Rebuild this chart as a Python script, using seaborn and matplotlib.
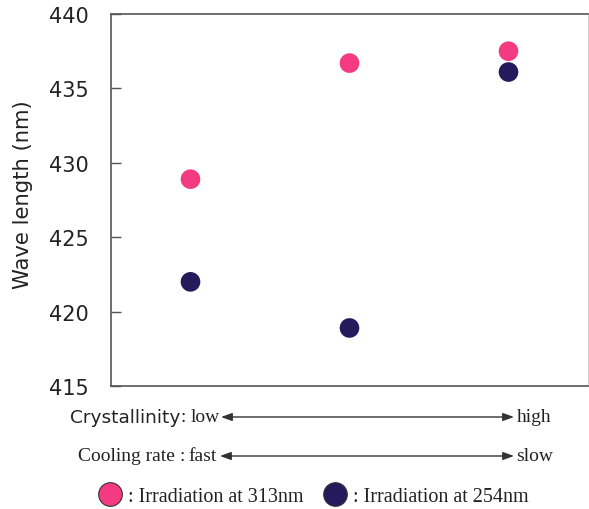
import matplotlib
matplotlib.use("Agg")
import matplotlib.pyplot as plt
from matplotlib.lines import Line2D
import seaborn as sns
import pandas as pd

conditions = ["low/fast", "mid", "high/slow"]
irr_313 = [428.9, 436.7, 437.5]
irr_254 = [422.0, 418.9, 436.1]
series_labels = [": Irradiation at 313nm", ": Irradiation at 254nm"]
colors = ["#F43A80", "#231B5C"]
yticks = [415, 420, 425, 430, 435, 440]

df = pd.DataFrame({
    "x": list(range(len(conditions))) * 2,
    "y": irr_313 + irr_254,
    "series": [series_labels[0]] * 3 + [series_labels[1]] * 3,
})

sns.set_theme(style="white")
plt.rcParams["font.family"] = ["DejaVu Sans"]

W, H = 589, 510
fig = plt.figure(figsize=(W / 100, H / 100), dpi=100)
ax = fig.add_axes([111 / W, 1 - 387 / H, (588 - 111) / W, (387 - 15) / H])

sns.scatterplot(data=df, x="x", y="y", hue="series",
                palette=dict(zip(series_labels, colors)),
                s=200, edgecolor="none", legend=False, ax=ax)

ax.set_xlim(-0.5, 2.5)
ax.set_ylim(415, 440)
ax.set_yticks(yticks)
ax.set_yticklabels([str(t) for t in yticks], fontsize=15, color="#222222")
ax.set_xticks([])
ax.set_xlabel("")
ax.set_ylabel("")
ax.tick_params(axis="y", direction="in", length=7, width=1, color="#555555", pad=16, left=True)
for side in ["left", "bottom", "top"]:
    ax.spines[side].set_color("#555555")
    ax.spines[side].set_linewidth(1.2)
ax.spines["right"].set_color("#cccccc")
ax.spines["right"].set_linewidth(0.8)


def fx(px):
    return px / W


def fy(py):
    return 1 - py / H


fig.text(fx(23), fy(195), "Wave length (nm)", rotation=90, ha="center", va="center",
         fontsize=15.2, color="#222222")

serif = "Liberation Serif"
fs = 14
tc = "#222222"
arrow_kw = dict(arrowstyle="<|-|>,head_length=0.55,head_width=0.2", color="#333333", lw=1,
                shrinkA=0, shrinkB=0)

# Row 1: crystallinity
y1 = fy(418)
fig.text(fx(70), y1, "Crystallinity", ha="left", va="center", fontsize=13.3,
         family="DejaVu Sans", color=tc)
fig.text(fx(183), y1, ":", ha="center", va="center", fontsize=fs, family=serif, color=tc)
fig.text(fx(191), y1, "low", ha="left", va="center", fontsize=fs, family=serif, color=tc)
fig.text(fx(517), y1, "high", ha="left", va="center", fontsize=fs, family=serif, color=tc)
ax.annotate("", xy=(fx(514), y1), xytext=(fx(221), y1), xycoords="figure fraction",
            textcoords="figure fraction", arrowprops=arrow_kw)

# Row 2: cooling rate
y2 = fy(457)
fig.text(fx(78), y2, "Cooling rate", ha="left", va="center", fontsize=fs, family=serif, color=tc)
fig.text(fx(182), y2, ":", ha="center", va="center", fontsize=fs, family=serif, color=tc)
fig.text(fx(188), y2, "fast", ha="left", va="center", fontsize=fs, family=serif, color=tc)
fig.text(fx(516), y2, "slow", ha="left", va="center", fontsize=fs, family=serif, color=tc)
ax.annotate("", xy=(fx(514), y2), xytext=(fx(220), y2), xycoords="figure fraction",
            textcoords="figure fraction", arrowprops=arrow_kw)

# Legend: two single-entry legends placed precisely
lfs = 14.5
for c, lab, x0 in zip(colors, series_labels, [98, 323]):
    h = Line2D([], [], marker="o", linestyle="", markersize=17,
               markerfacecolor=c, markeredgecolor="#333333", markeredgewidth=0.8)
    leg = fig.legend([h], [lab], loc="center left", bbox_to_anchor=(fx(x0), fy(497)),
                     frameon=False, prop={"family": serif, "size": lfs},
                     handletextpad=0.3, handlelength=1.2, borderpad=0, borderaxespad=0)
    for t in leg.get_texts():
        t.set_color(tc)

fig.savefig("out.png", dpi=100)
